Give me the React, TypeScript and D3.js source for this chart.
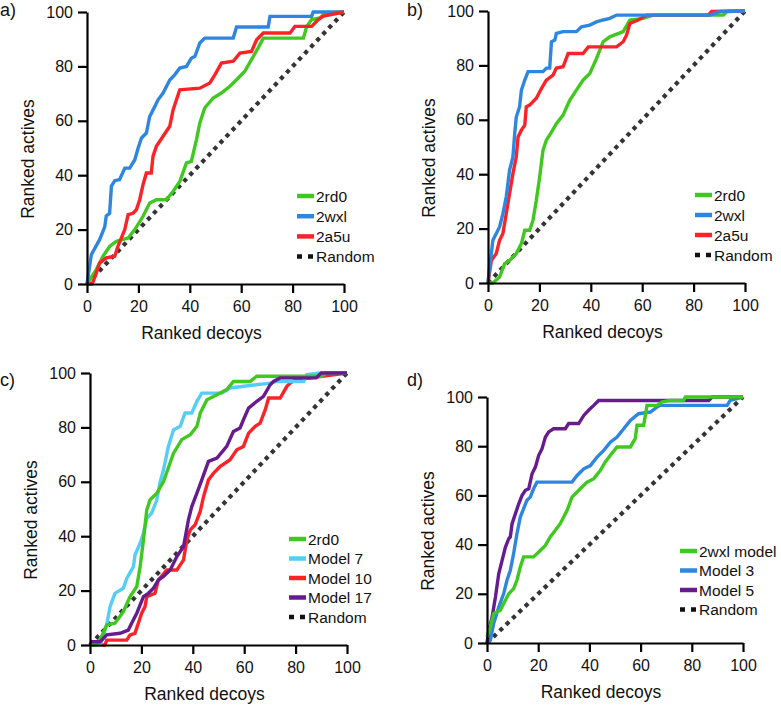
import React, { useEffect, useRef } from "react";
import * as d3 from "d3";

type P = [number, number];

const ticks = [0, 20, 40, 60, 80, 100];
const tickLabels = ["0", "20", "40", "60", "80", "100"];
const xTitle = "Ranked decoys";
const yTitle = "Ranked actives";
const panelLabels = ["a)", "b)", "c)", "d)"];
const randomLine: P[] = [[0, 0], [100, 100]];

// Panel a
const a_names = ["2rd0", "2wxl", "2a5u"];
const a_2rd0: P[] = [[0,0],[3.6,5.3],[6.2,10.2],[8.8,13.8],[11.4,15.7],[16,16.9],[18.6,20],[21.8,24.9],[24.4,29.8],[27,31],[30.9,31],[33.5,34],[36.1,37.7],[38.7,44.5],[40.6,45.1],[42.6,53.1],[43.9,59.2],[45.8,64.7],[49.1,68.4],[52.3,70.2],[55.6,72.7],[58.2,75.1],[61.4,78.2],[64,82.5],[66.6,86.8],[68.6,90.4],[84.2,90.4],[85.5,94.7],[87.4,97.2],[90.6,97.8],[92.6,99.6],[100,100]];
const a_2wxl: P[] = [[0,0],[1.7,10.8],[4.9,16.3],[6.9,21],[7.5,25],[8.8,26],[9.5,36],[10.8,38],[12.7,38.4],[14.7,42.6],[16.6,42.6],[18.6,45.7],[19.9,50],[21.2,53.7],[23.1,55.5],[24.4,61.6],[26.4,65.3],[27.7,67.8],[29.6,70.2],[32.2,75],[34.2,77],[36.1,79.4],[38.7,80],[40.6,83],[42,83.7],[43.9,88.6],[45.8,90.4],[56.9,90.4],[58.2,94.5],[70.5,94.5],[71.2,98.4],[87.4,98.4],[88,100],[100,100]];
const a_2a5u: P[] = [[0,0],[2,0],[3.6,4],[4.9,7.7],[7.5,9.6],[10.8,10.2],[12,13.8],[14.7,20],[16,25.5],[17.9,26],[19.2,27.3],[20.5,31],[21.8,36.5],[23.1,40.8],[25,40.8],[25.7,47],[27,50.6],[29.6,54.3],[32.2,58],[33.5,64],[36.1,71.4],[43.9,72],[47.8,73.9],[49.8,77],[52.3,81.2],[56.9,81.9],[59.5,84.9],[64,85.5],[66,89.8],[68.6,92.3],[79,92.3],[80.9,94.7],[87.4,94.7],[90,97.2],[92,98.5],[100,100]];

// Panel b
const b_names = ["2rd0", "2wxl", "2a5u"];
const b_2rd0: P[] = [[0,0],[1.9,0],[4.5,2.2],[6.5,7.1],[8.4,8.3],[11,10.8],[13,14.5],[14.3,19.4],[16.2,19.4],[17.5,23],[18.8,30.4],[20.1,39],[21.4,48.8],[22.7,52.5],[24,54.4],[26.6,58.6],[29.2,61.7],[31.8,67.2],[34.4,70.9],[37,74.6],[39.6,77],[42.2,82.5],[44.8,88.7],[47.4,90.5],[52.6,92.4],[55.2,96.7],[60.4,97.3],[64.3,98.5],[91.6,98.5],[92.9,99.8],[100,100]];
const b_2wxl: P[] = [[0,0],[0.5,5],[1.3,10.8],[1.9,15.7],[4.5,20.6],[5.8,25.5],[7.1,31.7],[8.4,41.5],[9.7,46.4],[10.4,55],[11,61],[12.3,64.8],[13,70.9],[14.3,74.6],[15.6,77.7],[21.4,77.7],[22.7,79],[24,79],[24.7,88.7],[26,89.3],[26.6,91.8],[29.2,92.4],[34.4,92.4],[36.4,94.2],[39.6,94.8],[42.2,96],[44.8,96.7],[47.4,97.3],[50,98.5],[86.4,98.5],[90.3,99.8],[100,100]];
const b_2a5u: P[] = [[0,0],[1.3,8.3],[3.2,10.8],[4.5,15.7],[5.8,18.2],[7.1,25.5],[8.4,32.9],[9.7,40.2],[11,46.4],[11.7,53.7],[13,56.2],[14.3,58],[14.9,64.8],[16.2,65.4],[18.8,67.9],[20.8,71.5],[22.7,74.6],[25.3,76.4],[26.6,79],[29.2,79.5],[31.2,84.4],[37,84.4],[39,86.8],[50,86.8],[52.6,88.7],[53.9,91.1],[55.2,95.4],[58.4,96.7],[61.7,98.5],[85.7,98.5],[87,99.8],[100,100]];

// Panel c
const c_names = ["2rd0", "Model 7", "Model 10", "Model 17"];
const c_2rd0: P[] = [[0,0],[2.6,0],[4.5,3.1],[6.5,7.4],[9.7,8],[13,12.3],[15.6,17.8],[18.2,21.5],[19.5,28.8],[20.8,38.7],[22.1,49.7],[23.4,53.4],[26,55.8],[28.6,60.1],[32.5,70.5],[35.7,75.5],[39,77.3],[41.6,80.4],[42.9,85.3],[45.5,90.2],[49.4,92],[53.2,93.9],[55.8,96.9],[62.3,96.9],[64.9,98.8],[90,98.8],[92,100],[100,100]];
const c_m7: P[] = [[0,0],[4,0],[6.5,7.4],[7.8,14.1],[9.7,19],[13,20.9],[14.3,24.5],[16.9,28.8],[17.5,33.1],[19.5,37.4],[20.8,41.1],[22.1,46.6],[24,48.5],[26,53.4],[27.3,60.1],[28.6,64.4],[30.5,73],[32.5,79.1],[35.1,80.4],[37,85.3],[39.6,85.3],[41.6,89.6],[43.5,92.6],[51.3,92.6],[54.5,94.5],[70.1,96.3],[72.7,96.9],[83.1,96.9],[84.4,99.4],[89.6,100],[100,100]];
const c_m10: P[] = [[0,0],[5.8,0],[6.5,1.8],[14.3,1.8],[15.6,3.7],[17.5,4.3],[18.8,8],[20.1,11.7],[21.4,14.1],[22.1,17.8],[25.3,19],[26.6,23.9],[29.9,27.6],[33.8,27.6],[36.4,31.3],[37.7,38.7],[39,42.3],[40.9,44.2],[42.9,49.1],[44.2,54.6],[46.1,60.7],[48.1,63.2],[50.6,65.6],[54.5,68.1],[57.1,71.8],[59.7,73],[61.7,77.9],[64.3,80.4],[66.2,81.6],[68.2,86.5],[69.5,90.8],[74,90.8],[76.6,95.1],[77.9,96.3],[80,97.5],[100,100]];
const c_m17: P[] = [[0,1.2],[4,1.2],[6.5,3.7],[11.7,4.3],[14.9,5.5],[16.2,8],[18.2,11.7],[20.8,17.8],[22.7,19],[24.7,20.9],[26.6,23.9],[28.6,25.2],[31.2,27.6],[33.8,32.5],[36.4,36.2],[38.3,46],[39.6,50.9],[41.6,55.8],[43.5,60.7],[46.1,67.5],[49.4,68.7],[53.2,73],[55.8,78.5],[58.4,79.8],[59.7,82.8],[61.7,87.1],[64.9,89.6],[67.5,91.4],[70.1,95.7],[71.4,96.9],[74,98.2],[88,98.2],[90,100],[100,100]];

// Panel d
const d_names = ["2wxl model", "Model 3", "Model 5"];
const d_2wxl: P[] = [[0,2.4],[1.3,6.5],[2.6,11.9],[5.2,13.3],[6.5,16],[8.5,20],[10.4,22.1],[11.7,25.5],[13,30.9],[14.3,35],[18.2,35],[20.2,37],[22.8,39.7],[24.7,43.1],[26.7,45.8],[28.6,48.5],[31.3,53.9],[33.2,59.3],[35.2,61.4],[37.1,63.4],[39.1,65.4],[41.7,66.8],[44.3,70.2],[46.2,73.6],[48.2,76.3],[50.8,79.7],[56,79.7],[57.9,83.1],[58.6,88.5],[61.2,88.5],[62.5,96.6],[66.4,96.6],[68.4,98],[71.6,98.6],[76.8,98.6],[77.5,100],[100,100]];
const d_m3: P[] = [[0,0],[1.3,1.1],[2.6,7.9],[4.6,14.6],[6.5,20],[7.8,25.5],[9.1,29.5],[10.4,36.3],[11.7,44.4],[13,51.2],[14.3,54.6],[15.6,58],[16.9,59.3],[18.2,62.7],[19.5,65.4],[33.2,65.4],[35.2,68.1],[37.8,70.8],[40.4,72.1],[43,75.6],[45.6,78.3],[48.2,81.6],[50.8,83.7],[53.4,87.1],[56,90.5],[59.2,93.2],[63.8,93.9],[66.4,95.9],[67.7,96.6],[93.8,96.6],[95,98.6],[100,100]];
const d_m5: P[] = [[0,0],[0.7,5.1],[2,10.6],[3.3,18.7],[4.6,28.2],[5.9,33.6],[7.2,39],[8.5,42.4],[9.1,43.1],[9.8,48.5],[11.1,52.6],[12.4,56.6],[13.7,60],[15,62.1],[16.3,62.7],[17.6,68.8],[18.9,71.5],[20.2,76.3],[21.5,79],[22.8,83.7],[24.1,85.8],[26,87.1],[30.6,87.1],[31.9,89.2],[35.8,89.2],[37.8,92.5],[39.7,94.6],[41.7,96.6],[43.6,98.6],[86.6,98.6],[88,100],[100,100]];

const GREEN = "#3fc81f";
const BLUE = "#2f86e0";
const RED = "#fb2327";
const CYAN = "#55cdf5";
const PURPLE = "#661c8e";
const DARK = "#343434";

interface Series { name: string; data: P[]; color: string; }
interface Panel {
  label: string;
  x0: number; x1: number; yb: number; yt: number;
  series: Series[];
  drawOrder: number[];
  legX: number; legY: number; legStep: number;
}

const panels: Panel[] = [
  { label: panelLabels[0], x0: 87, x1: 344, yb: 284, yt: 12,
    series: [
      { name: a_names[0], data: a_2rd0, color: GREEN },
      { name: a_names[1], data: a_2wxl, color: BLUE },
      { name: a_names[2], data: a_2a5u, color: RED },
    ], drawOrder: [0, 1, 2], legX: 297, legY: 196, legStep: 20.2 },
  { label: panelLabels[1], x0: 488, x1: 745, yb: 283, yt: 11,
    series: [
      { name: b_names[0], data: b_2rd0, color: GREEN },
      { name: b_names[1], data: b_2wxl, color: BLUE },
      { name: b_names[2], data: b_2a5u, color: RED },
    ], drawOrder: [0, 2, 1], legX: 695, legY: 195, legStep: 20 },
  { label: panelLabels[2], x0: 90, x1: 347, yb: 645, yt: 373,
    series: [
      { name: c_names[0], data: c_2rd0, color: GREEN },
      { name: c_names[1], data: c_m7, color: CYAN },
      { name: c_names[2], data: c_m10, color: RED },
      { name: c_names[3], data: c_m17, color: PURPLE },
    ], drawOrder: [2, 1, 0, 3], legX: 289, legY: 539, legStep: 19.5 },
  { label: panelLabels[3], x0: 487, x1: 743, yb: 643, yt: 397,
    series: [
      { name: d_names[0], data: d_2wxl, color: GREEN },
      { name: d_names[1], data: d_m3, color: BLUE },
      { name: d_names[2], data: d_m5, color: PURPLE },
    ], drawOrder: [1, 2, 0], legX: 680, legY: 551, legStep: 19.5 },
];

const labelPos: P[] = [[0, 16], [407, 16], [0, 386], [407, 386]];
const FONT = "'Liberation Sans', Arial, Helvetica, sans-serif";

export default function App() {
  const ref = useRef<SVGSVGElement>(null);
  useEffect(() => {
    const svg = d3.select(ref.current);
    svg.selectAll("*").remove();
    panels.forEach((p, pi) => {
      const x = d3.scaleLinear().domain([0, 100]).range([p.x0, p.x1]);
      const y = d3.scaleLinear().domain([0, 100]).range([p.yb, p.yt]);
      const g = svg.append("g");
      const line = d3.line<P>().x((d) => x(d[0])).y((d) => y(d[1]));

      // random
      g.append("path").attr("d", line(randomLine) as string)
        .attr("fill", "none").attr("stroke", DARK).attr("stroke-width", 4.2)
        .attr("stroke-dasharray", "4.2 4.6");

      p.drawOrder.forEach((si) => {
        const s = p.series[si];
        g.append("path").attr("d", line(s.data) as string)
          .attr("fill", "none").attr("stroke", s.color)
          .attr("stroke-width", 3.4).attr("stroke-linejoin", "miter")
          .attr("stroke-linecap", "butt");
      });

      // axes
      const ax = g.append("g").attr("transform", `translate(0,${p.yb})`)
        .call(d3.axisBottom(x).tickValues(ticks).tickFormat((_d, i) => tickLabels[i])
          .tickSize(9).tickSizeOuter(0).tickPadding(8));
      const ay = g.append("g").attr("transform", `translate(${p.x0},0)`)
        .call(d3.axisLeft(y).tickValues(ticks).tickFormat((_d, i) => tickLabels[i])
          .tickSize(9).tickSizeOuter(0).tickPadding(5));
      [ax, ay].forEach((a) => {
        a.select(".domain").attr("stroke", "#000").attr("stroke-width", 2.2);
        a.selectAll(".tick line").attr("stroke", "#000").attr("stroke-width", 2.2);
        a.selectAll(".tick text").attr("font-family", FONT).attr("font-size", 16).attr("fill", "#111");
      });

      // titles
      g.append("text").attr("x", (p.x0 + p.x1) / 2 - 14).attr("y", p.yb + 55)
        .attr("text-anchor", "middle").attr("font-family", FONT).attr("font-size", 17.5)
        .attr("fill", "#111").text(xTitle);
      const cy = (p.yb + p.yt) / 2 + 11;
      g.append("text").attr("transform", `translate(${p.x0 - 53},${cy}) rotate(-90)`)
        .attr("text-anchor", "middle").attr("font-family", FONT).attr("font-size", 17.5)
        .attr("fill", "#111").text(yTitle);
      g.append("text").attr("x", labelPos[pi][0]).attr("y", labelPos[pi][1])
        .attr("font-family", FONT).attr("font-size", 18).attr("fill", "#111").text(p.label);

      // legend
      const items = [...p.series.map((s) => ({ name: s.name, color: s.color, dash: false })),
        { name: "Random", color: "#111", dash: true }];
      items.forEach((it, i) => {
        const ly = p.legY + i * p.legStep;
        g.append("line").attr("x1", p.legX).attr("x2", p.legX + 17).attr("y1", ly).attr("y2", ly)
          .attr("stroke", it.color).attr("stroke-width", it.dash ? 4.5 : 4.5)
          .attr("stroke-dasharray", it.dash ? "5 6" : null);
        g.append("text").attr("x", p.legX + 19).attr("y", ly).attr("dy", "0.36em")
          .attr("font-family", FONT).attr("font-size", 15.5).attr("fill", "#111").text(it.name);
      });
    });
  }, []);
  return (
    <svg ref={ref} width={781} height={705}
      style={{ position: "absolute", left: 0, top: 0, background: "#fff" }} />
  );
}
